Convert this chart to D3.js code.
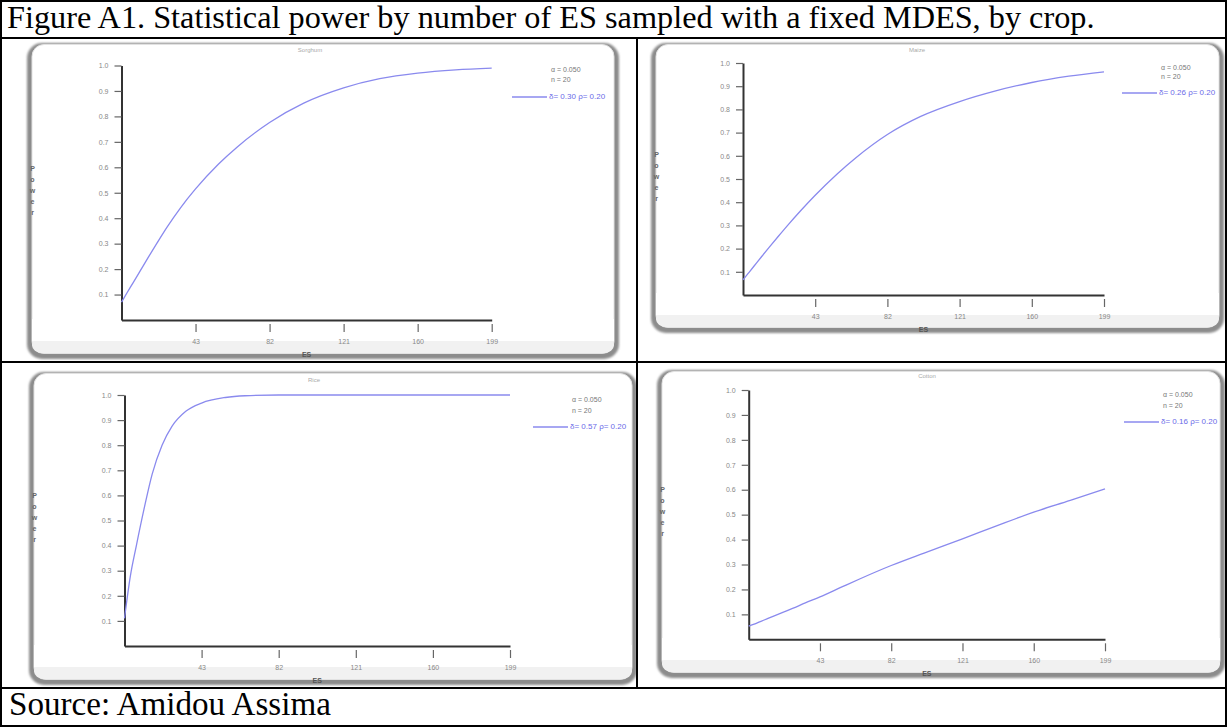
<!DOCTYPE html>
<html>
<head>
<meta charset="utf-8">
<script src="https://cdn.jsdelivr.net/npm/d3@7"></script>
<style>
  body { margin: 0; background: #fff; }
  svg { display: block; }
</style>
</head>
<body>
<svg id="chart" width="1228" height="727"></svg>
<script>
// number of ES sampled (x) and power
const esSampled = [4, 7, 10, 14, 18, 23, 28, 35, 43, 55, 65, 82, 100, 121, 140, 160, 180, 199];
const powerSorghum = [0.07, 0.108, 0.145, 0.195, 0.245, 0.306, 0.365, 0.44, 0.515, 0.612, 0.68, 0.776, 0.852, 0.912, 0.948, 0.97, 0.983, 0.99];
const powerMaize = [0.065, 0.095, 0.125, 0.165, 0.204, 0.252, 0.299, 0.362, 0.43, 0.523, 0.592, 0.692, 0.77, 0.834, 0.879, 0.916, 0.943, 0.962];
const powerRice = [0.11, 0.28, 0.4, 0.55, 0.685, 0.8, 0.875, 0.935, 0.968, 0.99, 0.997, 1, 1, 1, 1, 1, 1, 1];
const powerCotton = [0.053, 0.061, 0.07, 0.082, 0.094, 0.109, 0.124, 0.146, 0.17, 0.21, 0.243, 0.296, 0.346, 0.403, 0.456, 0.51, 0.557, 0.603];

const crops = ["Sorghum", "Maize", "Rice", "Cotton"];
const deltas = ["0.30", "0.26", "0.57", "0.16"];
const xTicks = [43, 82, 121, 160, 199];
const yTicks = [0.1, 0.2, 0.3, 0.4, 0.5, 0.6, 0.7, 0.8, 0.9, 1.0];

const titleText = "Figure A1. Statistical power by number of ES sampled with a fixed MDES, by crop.";
const sourceText = "Source: Amidou Assima";

const series = [powerSorghum, powerMaize, powerRice, powerCotton];

// placement of each pasted plot inside its table cell
const panels = [
  { cell: [2, 38, 637, 362], frame: [27, 43, 592, 316], x0: 121.5, x1: 491.7, y0: 320, y1: 65.5,
    title: [310, 50], legend: { lx: 512, ay: 70, ny: 80, ly: 97 } },
  { cell: [637, 38, 1225, 362], frame: [651, 43, 573, 290], x0: 743, x1: 1104, y0: 295, y1: 63,
    title: [917, 50], legend: { lx: 1122, ay: 68, ny: 77, ly: 93 } },
  { cell: [2, 362, 637, 688], frame: [29, 372, 608, 313], x0: 124.5, x1: 510, y0: 646, y1: 395,
    title: [314, 380], legend: { lx: 533, ay: 400, ny: 411, ly: 427 } },
  { cell: [637, 362, 1225, 688], frame: [657, 370, 568, 308], x0: 748.7, x1: 1105, y0: 639.3, y1: 390,
    title: [927, 376], legend: { lx: 1124, ay: 395, ny: 406, ly: 422 } }
];

const lineColor = "#8a8aee";
const svg = d3.select("#chart");
const defs = svg.append("defs");

defs.append("filter").attr("id", "soft")
  .attr("x", "-5%").attr("y", "-5%").attr("width", "110%").attr("height", "110%")
  .append("feGaussianBlur").attr("stdDeviation", 1.2);

svg.append("rect").attr("width", 1228).attr("height", 727).attr("fill", "#fff");

panels.forEach((p, i) => {
  const [cx0, cy0, cx1, cy1] = p.cell;
  defs.append("clipPath").attr("id", `cell${i}`)
    .append("rect").attr("x", cx0).attr("y", cy0).attr("width", cx1 - cx0).attr("height", cy1 - cy0);

  const g = svg.append("g").attr("clip-path", `url(#cell${i})`);
  const [fx, fy, fw, fh] = p.frame;

  // frame: dark soft edge left/right/bottom, thin top
  g.append("rect")
    .attr("x", fx).attr("y", fy).attr("width", fw).attr("height", fh)
    .attr("rx", 15).attr("fill", "#8c8c8c").attr("filter", "url(#soft)");
  g.append("rect")
    .attr("x", fx + 5).attr("y", fy + 1.5).attr("width", fw - 10).attr("height", fh - 7)
    .attr("rx", 12).attr("fill", "#fff").attr("stroke", "#e2e2e2").attr("stroke-width", 1);
  g.append("rect")
    .attr("x", fx + 5).attr("y", fy + fh - 22).attr("width", fw - 10).attr("height", 16)
    .attr("rx", 10).attr("fill", "#f1f1f1");
  g.append("rect")
    .attr("x", fx + 5).attr("y", fy + fh - 40).attr("width", fw - 10).attr("height", 22)
    .attr("fill", "#fff");

  const x = d3.scaleLinear().domain([4, 199]).range([p.x0, p.x1]);
  const y = d3.scaleLinear().domain([0, 1]).range([p.y0, p.y1]);

  // y axis
  const yAxis = g.append("g")
    .attr("transform", `translate(${p.x0},0)`)
    .call(d3.axisLeft(y).tickValues(yTicks).tickFormat(d3.format(".1f")).tickSize(7).tickSizeOuter(0).tickPadding(6));
  yAxis.select(".domain").attr("stroke", "#333").attr("stroke-width", 2);
  yAxis.selectAll(".tick line").attr("stroke", "#666").attr("stroke-width", 1.2);
  yAxis.selectAll(".tick text").attr("fill", "#888").style("font", "7px 'Liberation Sans', sans-serif");

  // x axis, ticks hang below with a small gap
  const xAxis = g.append("g")
    .attr("transform", `translate(0,${p.y0})`)
    .call(d3.axisBottom(x).tickValues(xTicks).tickSize(12).tickSizeOuter(0).tickPadding(7));
  xAxis.select(".domain").attr("stroke", "#333").attr("stroke-width", 2);
  xAxis.selectAll(".tick line").attr("y1", 4).attr("stroke", "#666").attr("stroke-width", 1.2);
  xAxis.selectAll(".tick text").attr("fill", "#888").style("font", "7px 'Liberation Sans', sans-serif");

  // axis titles
  g.append("text")
    .attr("x", (p.x0 + p.x1) / 2).attr("y", p.y0 + 35)
    .attr("text-anchor", "middle").attr("dominant-baseline", "middle")
    .attr("fill", "#555").style("font", "bold 7px 'Liberation Sans', sans-serif")
    .text("ES");

  const yLabel = "Power".split("");
  const ym = (p.y0 + p.y1) / 2 - 2;
  g.append("g").selectAll("text").data(yLabel).join("text")
    .attr("x", fx + 5.5)
    .attr("y", (d, k) => ym + (k - 2) * 11)
    .attr("text-anchor", "middle").attr("dominant-baseline", "middle")
    .attr("fill", "#666").style("font", "bold 7px 'Liberation Sans', sans-serif")
    .text(d => d);

  // panel title
  g.append("text")
    .attr("x", p.title[0]).attr("y", p.title[1])
    .attr("text-anchor", "middle").attr("dominant-baseline", "middle")
    .attr("fill", "#aaa").style("font", "6px 'Liberation Sans', sans-serif")
    .text(crops[i]);

  // power curve
  const pts = esSampled.map((d, k) => [d, series[i][k]]);
  g.append("path")
    .datum(pts)
    .attr("fill", "none")
    .attr("stroke", lineColor)
    .attr("stroke-width", 1.3)
    .attr("d", d3.line().x(d => x(d[0])).y(d => y(d[1])).curve(d3.curveMonotoneX));

  // legend
  const L = p.legend;
  g.append("text").attr("x", L.lx + 39).attr("y", L.ay)
    .attr("dominant-baseline", "middle").attr("fill", "#777")
    .style("font", "7px 'Liberation Sans', sans-serif").text("α = 0.050");
  g.append("text").attr("x", L.lx + 39).attr("y", L.ny)
    .attr("dominant-baseline", "middle").attr("fill", "#777")
    .style("font", "7px 'Liberation Sans', sans-serif").text("n = 20");
  g.append("line")
    .attr("x1", L.lx).attr("x2", L.lx + 35).attr("y1", L.ly).attr("y2", L.ly)
    .attr("stroke", lineColor).attr("stroke-width", 1.3);
  g.append("text").attr("x", L.lx + 37).attr("y", L.ly)
    .attr("dominant-baseline", "middle").attr("fill", "#6a6ae8")
    .style("font", "8px 'Liberation Sans', sans-serif")
    .text(`δ= ${deltas[i]}  ρ= 0.20`);
});

// table text
function fitText(t, width, size) {
  t.style("font-size", size + "px");
  const w = t.node().getComputedTextLength();
  t.style("font-size", (size * width / w) + "px");
}

const title = svg.append("text")
  .attr("x", 7).attr("y", 28)
  .attr("fill", "#000")
  .style("font-family", "'Liberation Serif', 'Times New Roman', serif")
  .text(titleText);
fitText(title, 1088, 24);

const source = svg.append("text")
  .attr("x", 9).attr("y", 715)
  .attr("fill", "#000")
  .style("font-family", "'Liberation Serif', 'Times New Roman', serif")
  .text(sourceText);
fitText(source, 322, 24);

// table grid
const grid = svg.append("g").attr("stroke", "#000").attr("stroke-width", 2).attr("fill", "none");
grid.append("rect").attr("x", 1).attr("y", 1).attr("width", 1225).attr("height", 725);
[38, 362, 688].forEach(yy => grid.append("line").attr("x1", 0).attr("x2", 1227).attr("y1", yy).attr("y2", yy));
grid.append("line").attr("x1", 637).attr("x2", 637).attr("y1", 38).attr("y2", 688);
</script>
</body>
</html>
